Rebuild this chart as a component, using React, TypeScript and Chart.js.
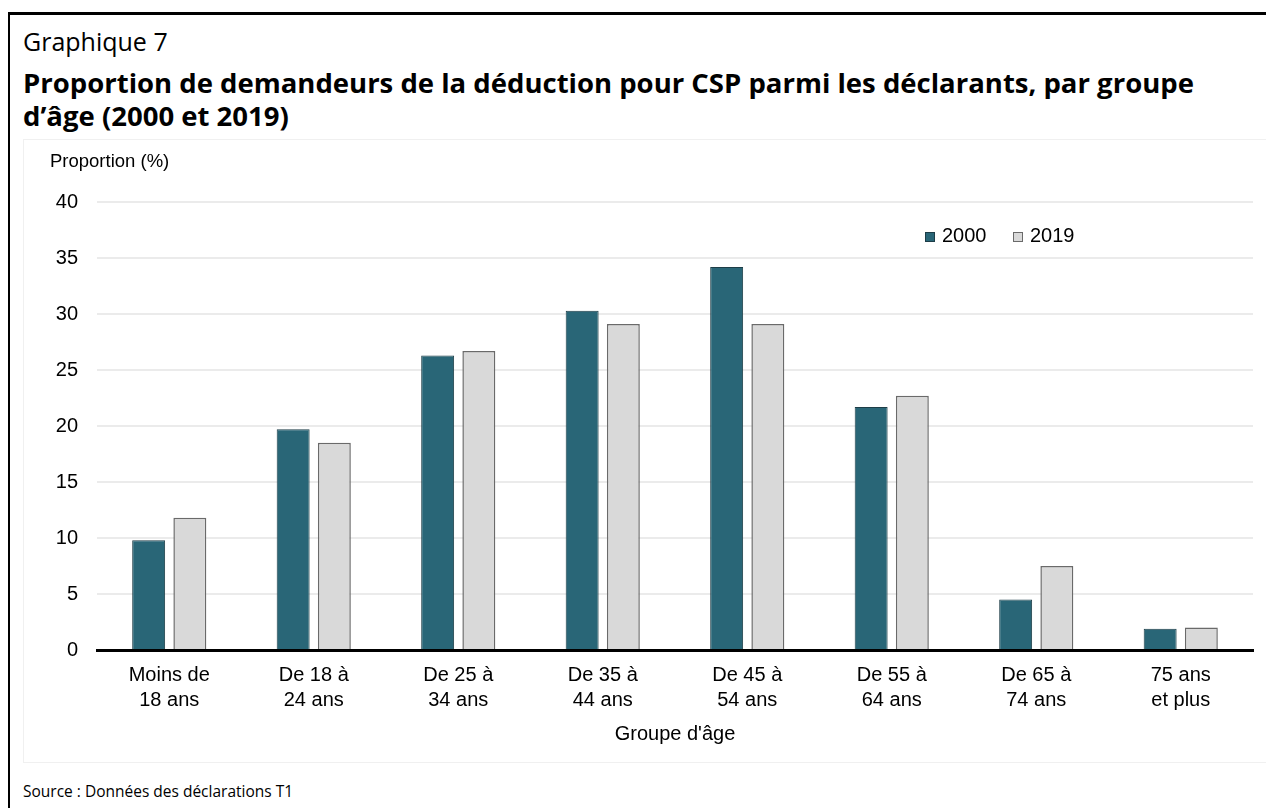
import React, { useEffect, useRef } from 'react';
import { Chart, registerables } from 'chart.js';

Chart.register(...registerables);

const categories: string[][] = [
  ['Moins de', '18 ans'],
  ['De 18 à', '24 ans'],
  ['De 25 à', '34 ans'],
  ['De 35 à', '44 ans'],
  ['De 45 à', '54 ans'],
  ['De 55 à', '64 ans'],
  ['De 65 à', '74 ans'],
  ['75 ans', 'et plus'],
];
const values2000 = [9.8, 19.7, 26.3, 30.3, 34.2, 21.7, 4.5, 1.9];
const values2019 = [11.8, 18.5, 26.7, 29.1, 29.1, 22.7, 7.5, 2.0];
const seriesLabels = ['2000', '2019'];
const yMin = 0;
const yMax = 40;
const yStep = 5;
const yAxisTitle = 'Proportion (%)';
const xAxisTitle = "Groupe d'âge";

const FONT = '"Liberation Sans", Arial, sans-serif';
const TITLE_FONT = '"Open Sans", "Noto Sans", sans-serif';

const overlayPlugin = {
  id: 'overlay',
  afterDraw(chart: any) {
    const { ctx, chartArea } = chart;
    ctx.save();
    ctx.font = `20px ${FONT}`;
    ctx.textBaseline = 'alphabetic';
    ctx.textAlign = 'left';
    const baseY = chartArea.top + 40;
    let x = chartArea.left + 828;
    chart.data.datasets.forEach((ds: any) => {
      ctx.fillStyle = ds.backgroundColor;
      ctx.fillRect(x, baseY - 10, 10, 10);
      ctx.strokeStyle = ds.borderColor;
      ctx.lineWidth = 1;
      ctx.strokeRect(x + 0.5, baseY - 9.5, 9, 9);
      ctx.fillStyle = '#000';
      ctx.fillText(ds.label, x + 17, baseY);
      x += 88;
    });
    ctx.fillStyle = '#000';
    ctx.font = `18.5px ${FONT}`;
    ctx.fillText(yAxisTitle, 26, 27);
    ctx.restore();
  },
};

function BarChart() {
  const ref = useRef<HTMLCanvasElement | null>(null);
  useEffect(() => {
    if (!ref.current) return;
    const chart = new Chart(ref.current, {
      type: 'bar',
      data: {
        labels: categories,
        datasets: [
          {
            label: seriesLabels[0],
            data: values2000,
            backgroundColor: '#296677',
            borderColor: '#1d3d47',
            borderWidth: 1,
            categoryPercentage: 0.57,
            barPercentage: 0.8,
          },
          {
            label: seriesLabels[1],
            data: values2019,
            backgroundColor: '#d9d9d9',
            borderColor: '#6a6a6a',
            borderWidth: 1.5,
            categoryPercentage: 0.57,
            barPercentage: 0.8,
          },
        ],
      },
      options: {
        responsive: false,
        animation: false,
        layout: { padding: { top: 62, right: 18, left: 0, bottom: 0 } },
        plugins: {
          legend: { display: false },
          tooltip: { enabled: false },
          title: { display: false },
        },
        scales: {
          x: {
            grid: { display: false, drawTicks: false },
            border: { display: true, color: '#000', width: 3 },
            ticks: {
              color: '#000',
              font: { family: FONT, size: 20, lineHeight: 1.25 },
              padding: 13,
              maxRotation: 0,
              autoSkip: false,
            },
            title: {
              display: true,
              text: xAxisTitle,
              color: '#000',
              font: { family: FONT, size: 20, lineHeight: 1.2 },
              padding: { top: 0, bottom: 16 },
            },
            afterFit(scale: any) {
              scale.height = 112;
            },
          },
          y: {
            min: yMin,
            max: yMax,
            grid: { color: '#ebebeb', lineWidth: 2, drawTicks: false },
            border: { display: false },
            ticks: {
              stepSize: yStep,
              color: '#000',
              font: { family: FONT, size: 20 },
              padding: 19,
            },
            afterFit(scale: any) {
              scale.width = 73;
            },
          },
        },
      },
      plugins: [overlayPlugin],
    });
    return () => chart.destroy();
  }, []);
  return (
    <canvas
      ref={ref}
      width={1247}
      height={622}
      style={{ display: 'block', width: 1247, height: 622 }}
    />
  );
}

export default function App() {
  return (
    <div style={{ position: 'relative', width: 1266, height: 800, fontFamily: TITLE_FONT, color: '#000' }}>
      <div
        style={{
          position: 'absolute',
          left: 0,
          top: 4,
          width: 1266,
          height: 796,
          borderTop: '3px solid #000',
          borderLeft: '2px solid #000',
          boxSizing: 'border-box',
        }}
      />
      <div style={{ position: 'absolute', left: 15, top: 20.8, fontSize: 25, lineHeight: '25px', whiteSpace: 'nowrap' }}>
        Graphique 7
      </div>
      <div
        style={{
          position: 'absolute',
          left: 15,
          top: 57.8,
          fontSize: 27.5,
          lineHeight: '33px',
          fontWeight: 700,
          whiteSpace: 'nowrap',
        }}
      >
        Proportion de demandeurs de la déduction pour CSP parmi les déclarants, par groupe
        <br />
        d’âge (2000 et 2019)
      </div>
      <div
        style={{
          position: 'absolute',
          left: 15,
          top: 131,
          width: 1247,
          height: 622,
          border: '1px solid #f0f0f0',
        }}
      >
        <BarChart />
      </div>
      <div style={{ position: 'absolute', left: 15, top: 776.2, fontSize: 15.5, lineHeight: '15.5px', whiteSpace: 'nowrap' }}>
        Source : Données des déclarations T1
      </div>
    </div>
  );
}
